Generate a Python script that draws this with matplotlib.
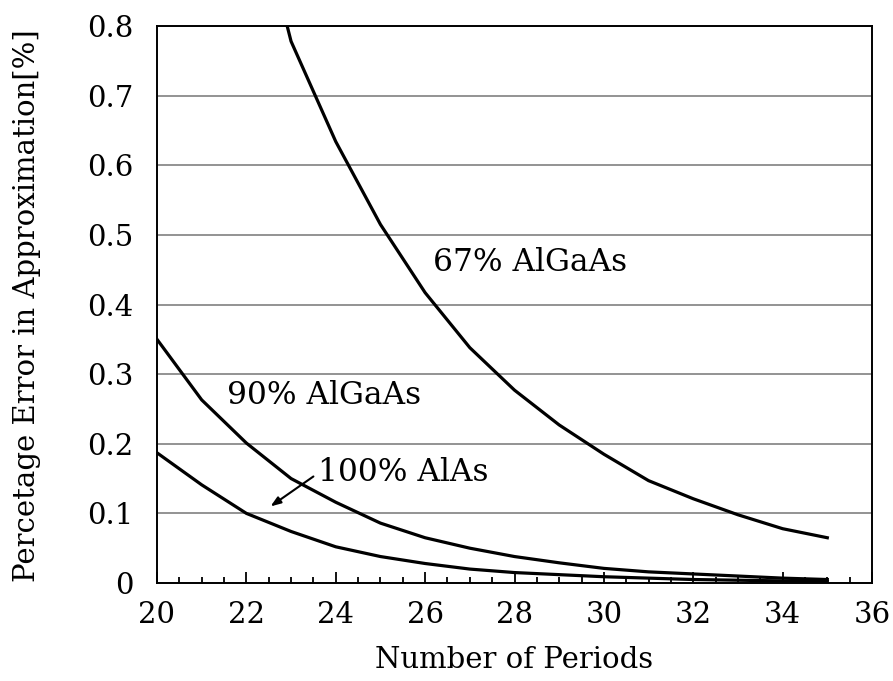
import matplotlib
matplotlib.use("Agg")
import matplotlib.pyplot as plt
from matplotlib.ticker import MultipleLocator

# Number of periods in the mirror stack
periods = list(range(20, 36))
periods_67 = list(range(22, 36))

# Percentage error of the approximation for each mirror material
err_alas_100 = [0.187, 0.141, 0.100, 0.074, 0.052, 0.038, 0.028, 0.020,
                0.015, 0.012, 0.009, 0.007, 0.005, 0.004, 0.003, 0.002]
err_algaas_90 = [0.350, 0.263, 0.201, 0.150, 0.116, 0.086, 0.065, 0.050,
                 0.038, 0.029, 0.021, 0.016, 0.013, 0.010, 0.007, 0.005]
err_algaas_67 = [1.030, 0.778, 0.634, 0.515, 0.417, 0.338, 0.277, 0.227,
                 0.185, 0.147, 0.121, 0.098, 0.078, 0.065]

x_ticks = [20, 22, 24, 26, 28, 30, 32, 34, 36]
y_ticks = [0, 0.1, 0.2, 0.3, 0.4, 0.5, 0.6, 0.7, 0.8]
y_tick_labels = ["0", "0.1", "0.2", "0.3", "0.4", "0.5", "0.6", "0.7", "0.8"]

plt.rcParams["font.family"] = ["DejaVu Serif"]

fig = plt.figure(figsize=(8.93, 6.81), dpi=100)
ax = fig.add_axes([157 / 893, 1 - 583 / 681, 715 / 893, 557 / 681])

line_kw = dict(color="black", lw=2.3, solid_joinstyle="miter", clip_on=True)
ax.plot(periods_67, err_algaas_67, **line_kw)
ax.plot(periods, err_algaas_90, **line_kw)
ax.plot(periods, err_alas_100, **line_kw)

ax.set_xlim(20, 36)
ax.set_ylim(0, 0.8)
ax.set_xticks(x_ticks)
ax.xaxis.set_minor_locator(MultipleLocator(0.5))
ax.set_yticks(y_ticks)
ax.set_yticklabels(y_tick_labels)

ax.yaxis.grid(True, color="#808080", lw=1.2)
ax.set_axisbelow(True)

ax.tick_params(axis="x", which="major", direction="in", length=8, width=1.3,
               labelsize=21, pad=13)
ax.tick_params(axis="x", which="minor", direction="in", length=4, width=1.3)
ax.tick_params(axis="y", which="both", length=0, labelsize=21, pad=17)
ax.tick_params(top=False, right=False)

for sp in ax.spines.values():
    sp.set_linewidth(1.4)
    sp.set_color("black")

ax.set_xlabel("Number of Periods", fontsize=21, labelpad=12)
fig.text(27 / 893, 1 - 306 / 681, "Percetage Error in Approximation[%]",
         fontsize=21, rotation=90, ha="center", va="center")

ax.text(26.17, 0.46, "67% AlGaAs", fontsize=22.5, va="center", ha="left")
ax.text(21.57, 0.27, "90% AlGaAs", fontsize=22.5, va="center", ha="left")
ax.text(23.6, 0.158, "100% AlAs", fontsize=22.5, va="center", ha="left")
ax.annotate("", xy=(22.54, 0.110), xytext=(23.50, 0.153),
            arrowprops=dict(arrowstyle="-|>,head_length=0.6,head_width=0.22",
                            color="black", lw=1.5, shrinkA=0, shrinkB=0))

fig.savefig("out.png", dpi=100)
